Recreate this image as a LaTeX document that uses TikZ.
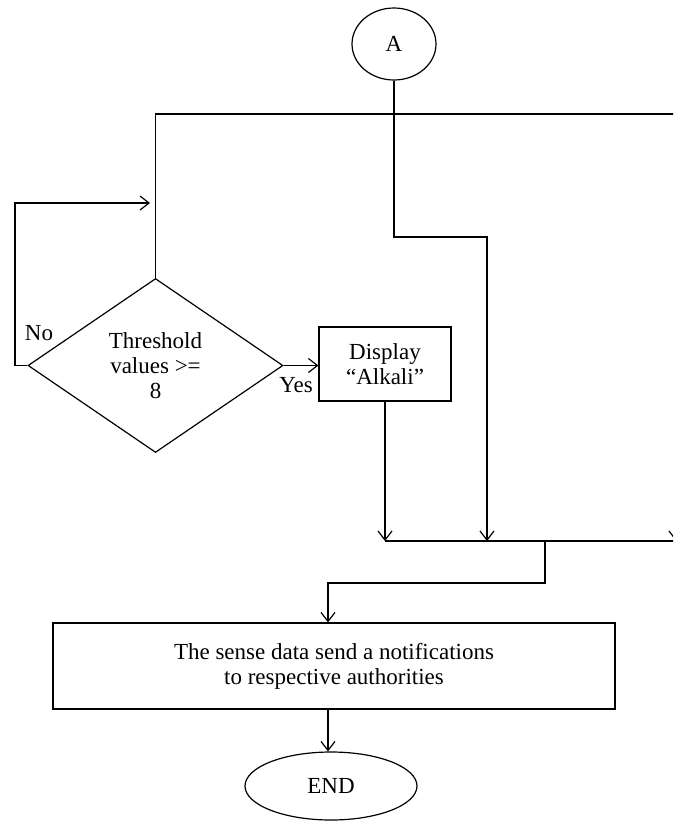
\documentclass[tikz,border=0pt]{standalone}
\usepackage{fontspec}
\setmainfont{Liberation Serif}
\usetikzlibrary{shapes.geometric,arrows.meta}
\begin{document}
\begin{tikzpicture}[x=1pt,y=-1pt,
  every node/.style={font=\fontsize{23}{25}\selectfont},
  ln/.style={draw, line width=1.2pt},
  arr/.style={ln, -{Straight Barb[length=9pt,width=14pt,line width=1.2pt]}},
  shp/.style={draw, line width=1.2pt, align=center, inner sep=0pt}]
\clip (0,0) rectangle (673,823);
% nodes
\node[shp, ellipse, minimum width=84, minimum height=72] (A) at (394,44) {A};
\node[shp, diamond, minimum width=255, minimum height=174] (dec) at (155.5,365.5) {Threshold\\values >=\\8};
\node[shp, rectangle, minimum width=132, minimum height=74] (disp) at (385,364) {Display\\“Alkali”};
\node[shp, rectangle, minimum width=562, minimum height=86] (note) at (334,666) {The sense data send a notifications\\to respective authorities};
\node[shp, ellipse, minimum width=172, minimum height=68] (endn) at (331,786) {END};
\node (no) at (39,333) {No};
\node (yes) at (296,385) {Yes};
% coordinates
\coordinate (t1) at (155.5,114);
\coordinate (t2) at (676,114);
\coordinate (r1) at (676,541);
\coordinate (m1) at (385,541);
\coordinate (nl1) at (15,365.5);
\coordinate (nl2) at (15,203);
\coordinate (nl3) at (150,203);
\coordinate (a1) at (394,237);
\coordinate (a2) at (487,237);
\coordinate (a3) at (487,541);
\coordinate (d1) at (545,541);
\coordinate (d2) at (545,583);
\coordinate (d3) at (328,583);
% connectors
\draw[ln] (dec.north) -- (t1) -- (t2);
\draw[arr] (t2) -- (r1);
\draw[arr] (dec.west) -- (nl1) -- (nl2) -- (nl3);
\draw[arr] (dec.east) -- (dec.east -| disp.west);
\draw[arr] (disp.south) -- (m1);
\draw[ln] (m1) -- (r1);
\draw[arr] (A.south) -- (a1) -- (a2) -- (a3);
\draw[arr] (d1) -- (d2) -- (d3) -- (d3 |- note.north);
\draw[arr] (d3 |- note.south) -- (d3 |- endn.north);
\end{tikzpicture}
\end{document}
